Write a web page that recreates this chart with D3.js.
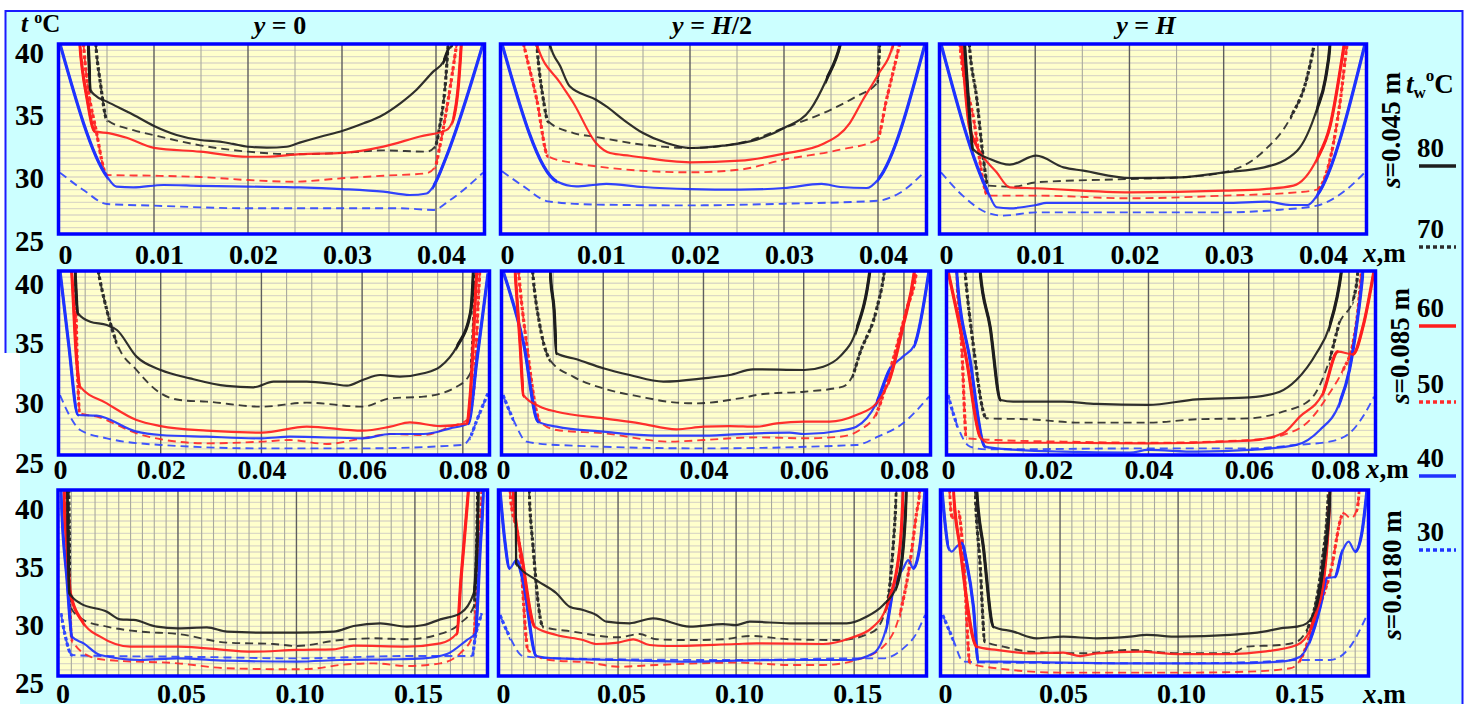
<!DOCTYPE html>
<html><head><meta charset="utf-8">
<script src="https://cdn.jsdelivr.net/npm/d3@7"></script>
<style>
body{margin:0;background:#fff;}
svg{display:block;}
text{font-family:"Liberation Serif","Times New Roman",serif;font-weight:bold;fill:#000;}
</style></head>
<body><svg id="chart" width="1474" height="704"></svg>
<script>
// ---------------- DATA ----------------
const colTitles = [["y"," = 0"],["y"," = H/2"],["y"," = H"]];
const rowLabels = ["=0.045 m","=0.085 m","=0.0180 m"];
const legendTemps = [80,70,60,50,40,30];
const yTicks = [25,30,35,40];
const xTicksRow1 = [0,0.01,0.02,0.03,0.04];
const xTicksRow2 = [0,0.02,0.04,0.06,0.08];
const xTicksRow3 = [0,0.05,0.10,0.15];
const xMaxRow = [0.045,0.085,0.18];

// row 1 (s=0.045 m), y = 0
const r1c1_80=[[0.0029,41],[0.0030,39.97],[0.00326,36.37],[0.0037,35.97],[0.0050,35.45],[0.0075,34.53],[0.0100,33.53],[0.0124,32.82],[0.0149,32.42],[0.0170,32.29],[0.0184,32.11],[0.0200,31.89],[0.0220,31.82],[0.0241,31.89],[0.0255,32.21],[0.0277,32.68],[0.0300,33.13],[0.0323,33.74],[0.0340,34.26],[0.0362,35.32],[0.0379,36.37],[0.0397,37.82],[0.0408,38.61],[0.0413,39.53],[0.0417,39.97],[0.0418,41]];
const r1c1_70=[[0.0037,41],[0.0038,40],[0.0043,36.9],[0.0050,34.0],[0.0078,33.2],[0.0100,32.8],[0.0149,32.0],[0.0200,31.5],[0.0248,31.3],[0.0300,31.4],[0.0344,31.6],[0.0390,31.5],[0.0399,31.9],[0.0404,33.5],[0.0410,36.9],[0.0413,40],[0.0414,41]];
const r1c1_60=[[0.0020,41],[0.0021,40],[0.0029,35.6],[0.0037,33.1],[0.0053,32.95],[0.0071,32.6],[0.0100,31.8],[0.0149,31.5],[0.0200,31.1],[0.0220,31.1],[0.0255,31.3],[0.0300,31.4],[0.0344,31.9],[0.0383,32.7],[0.0411,33.2],[0.0418,34.0],[0.0424,36.9],[0.0427,40],[0.0428,41]];
const r1c1_50=[[0.0024,41],[0.0025,40],[0.0039,32.95],[0.0050,29.66],[0.0100,29.6],[0.0149,29.5],[0.0200,29.26],[0.0248,29.13],[0.0300,29.4],[0.0344,29.6],[0.0390,29.8],[0.0399,30.3],[0.0404,31.9],[0.0413,35.6],[0.0422,40],[0.0424,41]];
const r1c1_40=[[0,40],[0.0050,29.53],[0.0060,28.74],[0.0078,28.68],[0.0110,28.87],[0.0149,28.8],[0.0200,28.74],[0.0255,28.68],[0.0300,28.55],[0.0344,28.34],[0.0372,28.08],[0.0390,28.2],[0.0397,28.74],[0.0411,31.1],[0.045,40]];
const r1c1_30=[[0,29.84],[0.0025,28.47],[0.0050,27.37],[0.0099,27.24],[0.0200,27.03],[0.0300,27.03],[0.0362,27.03],[0.0397,26.9],[0.0415,27.68],[0.045,29.84]];
// row 1, y = H/2
const r1c2_80=[[0.0049,41],[0.0051,40],[0.0062,38.24],[0.0072,36.66],[0.0100,35.6],[0.0111,35.08],[0.0129,34.03],[0.0150,32.97],[0.0175,32.18],[0.0200,31.79],[0.0235,31.97],[0.0271,32.45],[0.0300,33.37],[0.0328,34.82],[0.0345,37.18],[0.0360,40],[0.0363,41]];
const r1c2_70=[[0.0036,41],[0.0037,40],[0.0044,35.6],[0.0049,33.9],[0.0076,32.97],[0.0100,32.66],[0.0150,32.05],[0.0200,31.79],[0.0253,32.18],[0.0300,33.37],[0.0342,34.55],[0.0377,35.87],[0.0399,36.92],[0.0402,40],[0.0403,41]];
const r1c2_60=[[0.0034,41],[0.0037,40],[0.0062,36.92],[0.0076,35.34],[0.0100,32.18],[0.0115,31.39],[0.0136,31.18],[0.0200,30.66],[0.0253,30.79],[0.0300,31.34],[0.0342,32.13],[0.0370,33.76],[0.0384,35.6],[0.0400,37.58],[0.0416,40],[0.0419,41]];
const r1c2_50=[[0.0020,41],[0.0023,40],[0.0037,35.6],[0.0049,31.13],[0.0076,30.61],[0.0100,30.34],[0.0200,29.87],[0.0253,30.08],[0.0300,30.87],[0.0360,31.66],[0.0399,32.45],[0.0409,35.6],[0.0423,40],[0.0426,41]];
const r1c2_40=[[0,40],[0.0058,29.16],[0.0079,28.76],[0.0100,28.89],[0.0111,28.95],[0.0150,28.71],[0.0200,28.55],[0.0253,28.5],[0.0300,28.63],[0.0340,28.95],[0.0360,28.71],[0.0388,28.63],[0.0400,29.29],[0.045,40]];
const r1c2_30=[[0,29.95],[0.0023,28.76],[0.0049,27.58],[0.0100,27.32],[0.0200,27.26],[0.0300,27.39],[0.0400,27.63],[0.0423,28.24],[0.045,29.95]];
// row 1, y = H
const r1c3_80=[[0.0024,41],[0.0025,40],[0.0029,35.66],[0.0034,31.71],[0.0052,30.92],[0.0073,30.47],[0.0101,31.18],[0.0130,30.26],[0.0151,30.0],[0.0201,29.42],[0.0254,29.47],[0.0301,29.87],[0.0343,30.26],[0.0378,31.58],[0.0399,34.87],[0.0408,37.24],[0.0413,40],[0.0414,41]];
const r1c3_70=[[0.0029,41],[0.0030,40],[0.0038,35.66],[0.0045,30.92],[0.0050,28.82],[0.0077,28.74],[0.0101,29.08],[0.0201,29.34],[0.0254,29.47],[0.0301,29.87],[0.0343,31.58],[0.0371,34.21],[0.0389,37.5],[0.0396,40],[0.0398,41]];
const r1c3_60=[[0.0021,41],[0.0022,40],[0.0030,33.55],[0.0038,31.97],[0.0059,29.87],[0.0073,28.68],[0.0101,28.61],[0.0201,28.29],[0.0301,28.42],[0.0343,28.55],[0.0374,28.82],[0.0399,30.92],[0.0413,33.55],[0.0428,40],[0.0430,41]];
const r1c3_50=[[0.0019,41],[0.0020,40],[0.0034,34.34],[0.0050,28.03],[0.0101,28.03],[0.0201,27.82],[0.0301,28.03],[0.0378,28.29],[0.0399,28.5],[0.0413,30.92],[0.0424,35.66],[0.0431,40],[0.0433,41]];
const r1c3_40=[[0,40],[0.0050,28.29],[0.0059,27.11],[0.0073,27.03],[0.0101,27.29],[0.0112,27.45],[0.0201,27.45],[0.0301,27.45],[0.0346,27.55],[0.0371,27.29],[0.0389,27.29],[0.0399,28.03],[0.045,40]];
const r1c3_30=[[0,29.87],[0.0023,28.03],[0.0048,26.71],[0.0066,26.45],[0.0101,26.71],[0.0201,26.71],[0.0301,26.71],[0.0360,26.92],[0.0399,27.24],[0.0431,28.55],[0.045,29.87]];
// row 2 (s=0.085 m), y = 0
const r2c1_80=[[0.0029,41],[0.0030,40],[0.0036,36.55],[0.0060,35.87],[0.0093,35.6],[0.0113,35.19],[0.0152,33.02],[0.0200,31.93],[0.0258,31.25],[0.0331,30.63],[0.0384,30.52],[0.0424,30.98],[0.0490,30.98],[0.0543,30.79],[0.0570,30.65],[0.0601,31.11],[0.0636,31.52],[0.0675,31.39],[0.0722,31.66],[0.0755,32.2],[0.0788,33.83],[0.0815,36.55],[0.0821,40],[0.0822,41]];
const r2c1_70=[[0.0072,41],[0.0076,40],[0.0093,36.82],[0.0113,34.1],[0.0152,31.93],[0.0200,30.03],[0.0238,29.48],[0.0291,29.35],[0.0401,28.94],[0.0490,29.27],[0.0601,28.94],[0.0656,29.62],[0.0722,29.76],[0.0788,30.57],[0.0815,31.66],[0.0821,35.46],[0.0825,40],[0.0826,41]];
const r2c1_60=[[0.0021,41],[0.0023,40],[0.0033,32.74],[0.0040,30.57],[0.0093,29.21],[0.0152,27.85],[0.0200,27.36],[0.0291,26.98],[0.0401,26.82],[0.0490,27.31],[0.0601,26.98],[0.0656,27.31],[0.0695,27.66],[0.0755,27.36],[0.0808,27.58],[0.0815,30.03],[0.0828,40],[0.0830,41]];
const r2c1_50=[[0.0029,41],[0.0030,40],[0.0034,32.74],[0.0040,28.4],[0.0073,28.13],[0.0152,26.77],[0.0200,26.28],[0.0291,25.95],[0.0401,26.09],[0.0457,26.22],[0.0530,25.9],[0.0601,26.36],[0.0656,26.71],[0.0722,26.63],[0.0775,27.31],[0.0808,27.85],[0.0821,30.03],[0.0834,40],[0.0836,41]];
const r2c1_40=[[0,40],[0.0017,34.1],[0.0036,28.26],[0.0073,28.21],[0.0152,26.9],[0.0200,26.63],[0.0291,26.49],[0.0401,26.36],[0.0457,26.49],[0.0601,26.36],[0.0656,26.71],[0.0722,26.71],[0.0775,27.17],[0.0811,27.58],[0.0828,32.74],[0.085,39.8]];
const r2c1_30=[[0,29.89],[0.0020,28.13],[0.0040,27.04],[0.0093,26.36],[0.0200,25.82],[0.0401,25.54],[0.0601,25.54],[0.0800,25.82],[0.0815,26.49],[0.0828,27.85],[0.085,30.03]];
// row 2, y = H/2
const r2c2_80=[[0.0093,41],[0.0094,40],[0.0102,36.82],[0.0107,33.29],[0.0147,32.8],[0.0200,32.07],[0.0253,31.52],[0.0320,30.98],[0.0400,31.25],[0.0452,31.52],[0.0499,31.98],[0.0601,31.93],[0.0639,32.2],[0.0672,33.02],[0.0705,35.19],[0.0732,40],[0.0735,41]];
const r2c2_70=[[0.0057,41],[0.0059,40],[0.0074,35.46],[0.0094,32.74],[0.0140,31.39],[0.0200,30.43],[0.0273,29.76],[0.0346,29.27],[0.0386,29.21],[0.0472,29.62],[0.0519,29.97],[0.0601,30.16],[0.0678,30.57],[0.0698,31.52],[0.0712,33.29],[0.0745,36.82],[0.0761,40],[0.0764,41]];
const r2c2_60=[[0.0022,41],[0.0024,40],[0.0034,34.1],[0.0041,29.89],[0.0074,28.94],[0.0107,28.53],[0.0200,27.99],[0.0273,27.58],[0.0346,27.09],[0.0400,27.31],[0.0452,27.36],[0.0506,27.31],[0.0546,27.58],[0.0601,27.72],[0.0652,27.72],[0.0705,28.26],[0.0745,29.21],[0.0771,31.11],[0.0798,35.46],[0.0821,40],[0.0824,41]];
const r2c2_50=[[0.0029,41],[0.0031,40],[0.0047,34.1],[0.0074,27.72],[0.0107,27.04],[0.0200,26.77],[0.0333,26.09],[0.0400,26.22],[0.0506,26.44],[0.0601,26.36],[0.0672,26.49],[0.0712,27.04],[0.0745,28.4],[0.0778,32.74],[0.0805,36.82],[0.0825,40],[0.0828,41]];
const r2c2_40=[[0,40],[0.0041,34.1],[0.0070,27.72],[0.0107,27.31],[0.0200,26.9],[0.0306,26.58],[0.0400,26.58],[0.0506,26.77],[0.0572,26.82],[0.0601,26.71],[0.0672,26.98],[0.0705,27.31],[0.0745,29.21],[0.0771,31.93],[0.0798,33.02],[0.0821,33.97],[0.085,40]];
const r2c2_30=[[0,29.89],[0.0021,27.85],[0.0047,26.09],[0.0107,25.82],[0.0400,25.54],[0.0705,25.82],[0.0748,26.49],[0.0798,27.58],[0.085,29.76]];
// row 2, y = H
const r2c3_80=[[0.0062,41],[0.0064,40],[0.0084,35.46],[0.0105,29.48],[0.0130,29.35],[0.0230,29.35],[0.0296,29.16],[0.0399,29.08],[0.0496,29.54],[0.0602,29.7],[0.0662,30.16],[0.0695,31.11],[0.0735,33.29],[0.0761,35.46],[0.0785,40],[0.0788,41]];
const r2c3_70=[[0.0032,41],[0.0034,40],[0.0050,34.1],[0.0077,27.99],[0.0163,27.91],[0.0263,27.64],[0.0399,27.64],[0.0496,27.91],[0.0602,27.99],[0.0668,28.53],[0.0722,29.48],[0.0761,32.74],[0.0781,35.73],[0.0808,37.64],[0.0818,40],[0.0819,41]];
const r2c3_60=[[0,40],[0.0037,32.74],[0.0064,26.49],[0.0080,26.0],[0.0230,26.0],[0.0399,25.95],[0.0602,26.17],[0.0668,26.77],[0.0702,28.13],[0.0748,30.03],[0.0778,33.42],[0.0808,33.21],[0.0828,35.46],[0.085,40]];
const r2c3_50=[[0.0016,41],[0.0017,40],[0.0027,34.1],[0.0037,26.36],[0.0097,26.22],[0.0230,26.09],[0.0399,26.0],[0.0602,26.22],[0.0668,26.63],[0.0722,27.85],[0.0761,30.03],[0.0788,31.93],[0.0808,34.1],[0.0818,36.82],[0.0825,40],[0.0827,41]];
const r2c3_40=[[0.0016,41],[0.0017,40],[0.0044,32.74],[0.0074,25.68],[0.0097,25.54],[0.0230,25.27],[0.0363,25.19],[0.0399,25.41],[0.0496,25.27],[0.0602,25.41],[0.0695,25.82],[0.0742,27.04],[0.0781,29.21],[0.0801,31.93],[0.0815,35.46],[0.0828,40],[0.0830,41]];
const r2c3_30=[[0,29.89],[0.0017,27.58],[0.0044,25.68],[0.0077,25.46],[0.0399,25.54],[0.0602,25.54],[0.0695,25.82],[0.0761,26.09],[0.0801,26.77],[0.0828,28.13],[0.085,29.76]];
// row 3 (s=0.0180 m), y = 0
const r3c1_80=[[0.0031,41],[0.0032,40],[0.0043,31.67],[0.0088,30.86],[0.0200,30.19],[0.0257,29.57],[0.0313,29.52],[0.0411,28.98],[0.0500,28.84],[0.0622,28.92],[0.0707,28.58],[0.0904,28.49],[0.1000,28.49],[0.1157,28.58],[0.1241,29.03],[0.1354,29.25],[0.1466,28.98],[0.1537,29.11],[0.1607,29.57],[0.1691,30.05],[0.1748,31.67],[0.1762,35.43],[0.1769,40],[0.1770,41]];
const r3c1_70=[[0.0038,41],[0.0039,40],[0.0046,30.59],[0.0102,29.52],[0.0200,28.98],[0.0341,28.58],[0.0500,28.39],[0.0707,27.69],[0.0904,27.58],[0.1000,27.42],[0.1185,27.9],[0.1326,28.04],[0.1466,27.96],[0.1607,28.39],[0.1691,29.25],[0.1748,30.59],[0.1762,36.77],[0.1765,40],[0.1766,41]];
const r3c1_60=[[0.0017,41],[0.0018,40],[0.0032,35.43],[0.0046,31.67],[0.0102,29.25],[0.0172,28.17],[0.0299,27.37],[0.0500,27.37],[0.0622,27.23],[0.0819,26.96],[0.1000,27.1],[0.1157,27.15],[0.1241,27.45],[0.1466,27.37],[0.1607,27.63],[0.1677,28.44],[0.1694,32.74],[0.1726,40],[0.1730,41]];
const r3c1_50=[[0.0024,41],[0.0025,40],[0.0039,32.74],[0.0053,27.9],[0.0130,26.56],[0.0200,26.29],[0.0500,26.02],[0.0707,25.62],[0.1000,25.54],[0.1087,25.62],[0.1185,25.89],[0.1326,26.02],[0.1466,25.81],[0.1607,26.02],[0.1691,26.83],[0.1748,28.44],[0.1769,35.43],[0.1783,40],[0.1785,41]];
const r3c1_40=[[0.0005,41],[0.0006,40],[0.0032,32.74],[0.0053,28.17],[0.0102,27.63],[0.0172,26.69],[0.0341,26.29],[0.0500,26.42],[0.0707,26.24],[0.1000,26.16],[0.1185,26.29],[0.1396,26.34],[0.1537,26.42],[0.1635,26.77],[0.1719,27.9],[0.1755,28.44],[0.1776,35.43],[0.1790,40],[0.1792,41]];
const r3c1_30=[[0.0006,30.05],[0.0025,28.17],[0.0053,26.69],[0.0200,26.61],[0.0500,26.56],[0.1000,26.42],[0.1466,26.61],[0.1741,26.61],[0.1755,28.17],[0.1783,30.05]];
// row 3, y = H/2
const r3c2_80=[[0.0065,41],[0.0066,40],[0.0069,34.09],[0.0154,32.74],[0.0239,31.67],[0.0295,30.59],[0.0352,30.32],[0.0408,29.92],[0.0451,29.38],[0.0549,29.25],[0.0648,29.65],[0.0804,28.98],[0.0945,29.19],[0.0999,29.11],[0.1058,29.38],[0.1227,29.25],[0.1468,29.25],[0.1552,29.78],[0.1623,30.73],[0.1679,32.2],[0.1708,35.43],[0.1722,40],[0.1724,41]];
const r3c2_70=[[0.0121,41],[0.0123,40],[0.0140,35.43],[0.0182,28.98],[0.0309,28.58],[0.0500,28.12],[0.0592,28.39],[0.0662,27.96],[0.0804,27.9],[0.0945,27.96],[0.1058,28.23],[0.1227,27.96],[0.1439,27.9],[0.1581,28.58],[0.1637,30.59],[0.1665,35.43],[0.1679,40],[0.1681,41]];
const r3c2_60=[[0.0053,41],[0.0055,40],[0.0097,34.09],[0.0147,28.98],[0.0239,28.31],[0.0352,27.9],[0.0408,27.58],[0.0500,27.69],[0.0564,27.96],[0.0634,27.5],[0.0705,27.42],[0.0999,27.58],[0.1086,27.63],[0.1369,27.58],[0.1482,28.04],[0.1581,28.98],[0.1637,30.59],[0.1694,35.43],[0.1708,40],[0.1710,41]];
const r3c2_50=[[0.0039,41],[0.0041,40],[0.0083,35.43],[0.0119,27.1],[0.0210,26.29],[0.0380,26.08],[0.0500,25.75],[0.0662,25.89],[0.0999,26.08],[0.1227,25.89],[0.1369,25.89],[0.1510,26.29],[0.1623,27.37],[0.1694,30.05],[0.1736,34.09],[0.1764,38.12],[0.1778,40],[0.1780,41]];
const r3c2_40=[[0,40],[0.0020,35.97],[0.0041,33.68],[0.0069,34.35],[0.0097,32.74],[0.0154,26.61],[0.0239,26.42],[0.0500,26.29],[0.0804,26.16],[0.0999,26.24],[0.1227,26.29],[0.1482,26.29],[0.1581,26.83],[0.1637,28.98],[0.1665,31.94],[0.1708,33.68],[0.1729,34.35],[0.1750,33.68],[0.1778,35.43],[0.18,40]];
const r3c2_30=[[0,29.92],[0.0041,28.17],[0.0097,26.61],[0.0239,26.42],[0.0999,26.29],[0.1500,26.42],[0.1623,26.42],[0.1708,27.23],[0.1764,28.44],[0.18,29.92]];
// row 3, y = H
const r3c3_80=[[0.0145,41],[0.0147,40],[0.0175,35.43],[0.0218,28.98],[0.0302,28.58],[0.0401,28.04],[0.0514,28.17],[0.0655,28.04],[0.0797,28.17],[0.0867,28.31],[0.0999,28.17],[0.1220,28.31],[0.1362,28.58],[0.1432,28.84],[0.1503,28.98],[0.1545,29.25],[0.1588,30.86],[0.1616,34.09],[0.1644,40],[0.1646,41]];
const r3c3_70=[[0.0138,41],[0.0140,40],[0.0161,34.09],[0.0182,27.77],[0.0260,27.37],[0.0373,26.96],[0.0585,26.83],[0.0797,27.1],[0.0999,26.83],[0.1220,26.83],[0.1291,27.37],[0.1432,27.5],[0.1503,27.77],[0.1545,28.71],[0.1573,30.05],[0.1609,34.09],[0.1637,40],[0.1639,41]];
const r3c3_60=[[0.0046,41],[0.0048,40],[0.0076,35.43],[0.0147,27.37],[0.0232,27.1],[0.0373,26.83],[0.0514,26.88],[0.0585,26.61],[0.0655,26.83],[0.0839,26.96],[0.0999,26.77],[0.1220,26.77],[0.1362,26.96],[0.1503,27.5],[0.1559,28.71],[0.1588,30.32],[0.1616,32.74],[0.1644,40],[0.1646,41]];
const r3c3_50=[[0.0030,41],[0.0031,40],[0.0045,37.72],[0.0069,38.25],[0.0090,34.89],[0.0119,26.02],[0.0232,25.62],[0.0514,25.27],[0.0999,25.27],[0.1291,25.35],[0.1475,25.62],[0.1517,26.29],[0.1588,30.05],[0.1644,33.28],[0.1701,38.12],[0.1732,37.72],[0.1754,38.25],[0.1768,40],[0.1770,41]];
const r3c3_40=[[0,40],[0.0027,35.43],[0.0041,35.03],[0.0062,35.43],[0.0083,35.7],[0.0105,34.09],[0.0133,30.59],[0.0154,26.16],[0.0232,26.16],[0.0514,26.08],[0.0797,26.02],[0.0999,26.02],[0.1220,26.02],[0.1432,26.16],[0.1517,26.56],[0.1559,27.9],[0.1602,30.59],[0.1630,32.88],[0.1665,33.01],[0.1693,34.89],[0.1722,35.83],[0.1750,35.03],[0.1778,36.51],[0.18,40]];
const r3c3_30=[[0.0003,29.92],[0.0048,27.9],[0.0090,26.16],[0.0232,26.08],[0.0999,26.02],[0.1362,26.16],[0.1503,26.29],[0.1644,26.29],[0.1729,27.37],[0.18,29.92]];

// ---------------- BUILD ----------------
const panelSeries = [
  [[r1c1_80,r1c1_70,r1c1_60,r1c1_50,r1c1_40,r1c1_30],[r1c2_80,r1c2_70,r1c2_60,r1c2_50,r1c2_40,r1c2_30],[r1c3_80,r1c3_70,r1c3_60,r1c3_50,r1c3_40,r1c3_30]],
  [[r2c1_80,r2c1_70,r2c1_60,r2c1_50,r2c1_40,r2c1_30],[r2c2_80,r2c2_70,r2c2_60,r2c2_50,r2c2_40,r2c2_30],[r2c3_80,r2c3_70,r2c3_60,r2c3_50,r2c3_40,r2c3_30]],
  [[r3c1_80,r3c1_70,r3c1_60,r3c1_50,r3c1_40,r3c1_30],[r3c2_80,r3c2_70,r3c2_60,r3c2_50,r3c2_40,r3c2_30],[r3c3_80,r3c3_70,r3c3_60,r3c3_50,r3c3_40,r3c3_30]]
];
const xTicksRows = [xTicksRow1, xTicksRow2, xTicksRow3];
const majorStep = [0.01, 0.02, 0.05];
const styles = {
  80:{c:"#1e1e1e", dash:null},
  70:{c:"#2c2c2c", dash:"8,5"},
  60:{c:"#ff1e1e", dash:null},
  50:{c:"#ff2a2a", dash:"8,5"},
  40:{c:"#1f33ff", dash:null},
  30:{c:"#3148ff", dash:"8,5"}
};
const rowY = [[44,234],[271,455],[490,676]];
const colX = [
  [[60,483],[502,925],[941,1365]],
  [[60,488],[503,929],[948,1374]],
  [[59.5,486],[500,925],[942,1367]]
];
const yLabelRange = [[240,52],[462,283],[682,508]];
const xLabelBase = [264,479,703];
const xLabelOff = [5,0,3];
const FONT = '"Liberation Serif","Times New Roman",serif';

const svg = d3.select("#chart");

// background
svg.append("rect").attr("x",5.5).attr("y",11).attr("width",1457).attr("height",720)
  .attr("fill","#ccffff").attr("stroke","#1a1aff").attr("stroke-width",2);
svg.append("rect").attr("x",0).attr("y",353).attr("width",20).attr("height",360).attr("fill","#fff");

const defs = svg.append("defs");

// x-ranges of steep (near-wall) parts, drawn heavier as in the source figure
function steepRuns(pts, x, y) {
  const runs = []; let cur = null;
  for (let i = 1; i < pts.length; i++) {
    const dx = Math.abs(x(pts[i][0]) - x(pts[i-1][0]));
    const dy = Math.abs(y(pts[i][1]) - y(pts[i-1][1]));
    if (dy > 2.2 * dx && dy > 6) {
      if (!cur) { cur = [pts[i-1][0], pts[i][0]]; runs.push(cur); }
      cur[1] = pts[i][0];
    } else cur = null;
  }
  return runs;
}

panelSeries.forEach((rowArr, r) => {
  rowArr.forEach((series, c) => {
    const [px0, px1] = colX[r][c];
    const [py0, py1] = rowY[r];
    const x = d3.scaleLinear().domain([0, xMaxRow[r]]).range([px0, px1]);
    const y = d3.scaleLinear().domain([25, 40]).range([py1, py0]);
    const bx0 = px0 - 1.5, bx1 = px1 + 1.5;
    const g = svg.append("g");
    g.append("rect").attr("x",bx0).attr("y",py0).attr("width",bx1-bx0).attr("height",py1-py0).attr("fill","#ffffcc");
    // horizontal grid
    const hg = d3.range(25.5, 40, 0.5);
    g.selectAll("line.h").data(hg).join("line")
      .attr("x1",bx0).attr("x2",bx1).attr("y1",d=>y(d)).attr("y2",d=>y(d))
      .attr("stroke","#dcd9c6").attr("stroke-width",1.3);
    // vertical grid
    const n = Math.round(xMaxRow[r]/0.005);
    const vg = d3.range(1, n).map(i => i*0.005);
    const isMajor = d => Math.abs(d/majorStep[r] - Math.round(d/majorStep[r])) < 1e-6;
    g.selectAll("line.v").data(vg).join("line")
      .attr("x1",d=>x(d)).attr("x2",d=>x(d)).attr("y1",py0).attr("y2",py1)
      .attr("stroke",d => isMajor(d) ? "#5e5e5e" : "#a9a99e")
      .attr("stroke-width",d => isMajor(d) ? 1.4 : 1.1);
    // clip
    const id = `clip${r}${c}`;
    defs.append("clipPath").attr("id",id).append("rect")
      .attr("x",bx0).attr("y",py0).attr("width",bx1-bx0).attr("height",py1-py0);
    const line = d3.line().x(d=>x(d[0])).y(d=>y(d[1])).curve(d3.curveMonotoneX);
    const lg = g.append("g").attr("clip-path",`url(#${id})`);
    const order = [5,3,1,4,2,0];
    order.forEach(i => {
      const t = legendTemps[i];
      const st = styles[t];
      const d = line(series[i]);
      lg.append("path").attr("d", d)
        .attr("fill","none").attr("stroke",st.c)
        .attr("stroke-width", st.dash ? 1.9 : 2.2)
        .attr("stroke-dasharray", st.dash)
        .attr("stroke-linejoin","round")
        .attr("opacity", 0.92);
      steepRuns(series[i], x, y).forEach((run, k) => {
        const cid = `cl${r}${c}_${i}_${k}`;
        const xa = x(run[0]), xb = x(run[1]);
        defs.append("clipPath").attr("id",cid).append("rect")
          .attr("x",Math.min(xa,xb)-0.5).attr("y",py0-5)
          .attr("width",Math.abs(xb-xa)+1).attr("height",py1-py0+10);
        lg.append("g").attr("clip-path",`url(#${cid})`).append("path").attr("d", d)
          .attr("fill","none").attr("stroke",st.c)
          .attr("stroke-width", 3.2)
          .attr("stroke-dasharray", st.dash ? "3.5,2.5" : null);
      });
    });
    // border
    g.append("rect").attr("x",bx0).attr("y",py0).attr("width",bx1-bx0).attr("height",py1-py0)
      .attr("fill","none").attr("stroke","#0000ff").attr("stroke-width",3.5);
    // x axis labels
    const ax = d3.axisBottom(x).tickValues(xTicksRows[r])
      .tickFormat(d => d === 0 ? "0" : d.toFixed(2)).tickSize(0).tickPadding(0);
    const axg = svg.append("g").attr("transform",`translate(${xLabelOff[r]},${xLabelBase[r]})`).call(ax);
    axg.select(".domain").remove();
    axg.selectAll("text").attr("y",0).attr("dy",null)
      .style("font-family",FONT).style("font-weight","bold").style("font-size","28px").attr("fill","#000");
    if (r === 1 && c === 2) {
      axg.selectAll(".tick").filter(v => v === 0.08).select("text").attr("x",-14);
    }
    // y labels (first column only)
    if (c === 0) {
      const ly = d3.scaleLinear().domain([25,40]).range(yLabelRange[r]);
      const ay = d3.axisLeft(ly).tickValues(yTicks).tickSize(0).tickPadding(0);
      const ayg = svg.append("g").attr("transform","translate(44,0)").call(ay);
      ayg.select(".domain").remove();
      ayg.selectAll("text").attr("x",0).attr("dy","0.35em")
        .style("font-family",FONT).style("font-weight","bold").style("font-size","29px").attr("fill","#000");
    }
  });
});

// column titles
const titleX = [280,712,1146];
colTitles.forEach((tt, i) => {
  const t = svg.append("text").attr("x",titleX[i]).attr("y",34).attr("text-anchor","middle").style("font-size","26px");
  t.append("tspan").style("font-style","italic").text(tt[0]);
  if (tt[1].includes("H")) {
    t.append("tspan").text(" = ");
    t.append("tspan").style("font-style","italic").text("H");
    t.append("tspan").text(tt[1].split("H")[1]);
  } else {
    t.append("tspan").text(tt[1]);
  }
});

// y unit
const yu = svg.append("text").attr("x",21).attr("y",32).style("font-size","25px");
yu.append("tspan").style("font-style","italic").text("t");
yu.append("tspan").text(" ");
yu.append("tspan").attr("dy",-9).style("font-size","16px").text("o");
yu.append("tspan").attr("dy",9).text("C");

// x unit labels
[[1363,262],[1366,478],[1363,703]].forEach(([xx,b]) => {
  const t = svg.append("text").attr("x",xx).attr("y",b).style("font-size","27px");
  t.append("tspan").style("font-style","italic").text("x");
  t.append("tspan").text(",m");
});

// row labels (rotated)
const rowLabelPos = [[1400,130],[1409,346],[1401,575]];
rowLabels.forEach((lab, i) => {
  const t = svg.append("text").attr("transform",`translate(${rowLabelPos[i][0]},${rowLabelPos[i][1]}) rotate(-90)`)
    .attr("text-anchor","middle").style("font-size","27px");
  t.append("tspan").style("font-style","italic").text("s");
  t.append("tspan").text(lab);
});

// legend
const tw = svg.append("text").attr("x",1406).attr("y",93).style("font-size","27px");
tw.append("tspan").style("font-style","italic").text("t");
tw.append("tspan").attr("dy",5).style("font-size","17px").text("w");
tw.append("tspan").attr("dy",-17).style("font-size","17px").text("o");
tw.append("tspan").attr("dy",12).text("C");

const legBase = [157,238,317,393,467,541];
legendTemps.forEach((t, i) => {
  svg.append("text").attr("x",1417).attr("y",legBase[i]).style("font-size","27px").text(t);
  const st = styles[t];
  svg.append("line").attr("x1",1419).attr("x2",1456).attr("y1",legBase[i]+9).attr("y2",legBase[i]+9)
    .attr("stroke", st.c === "#3148ff" ? "#1f33ff" : st.c).attr("stroke-width",3.5)
    .attr("stroke-dasharray", st.dash ? "4,3" : null);
});
</script>
</body></html>
